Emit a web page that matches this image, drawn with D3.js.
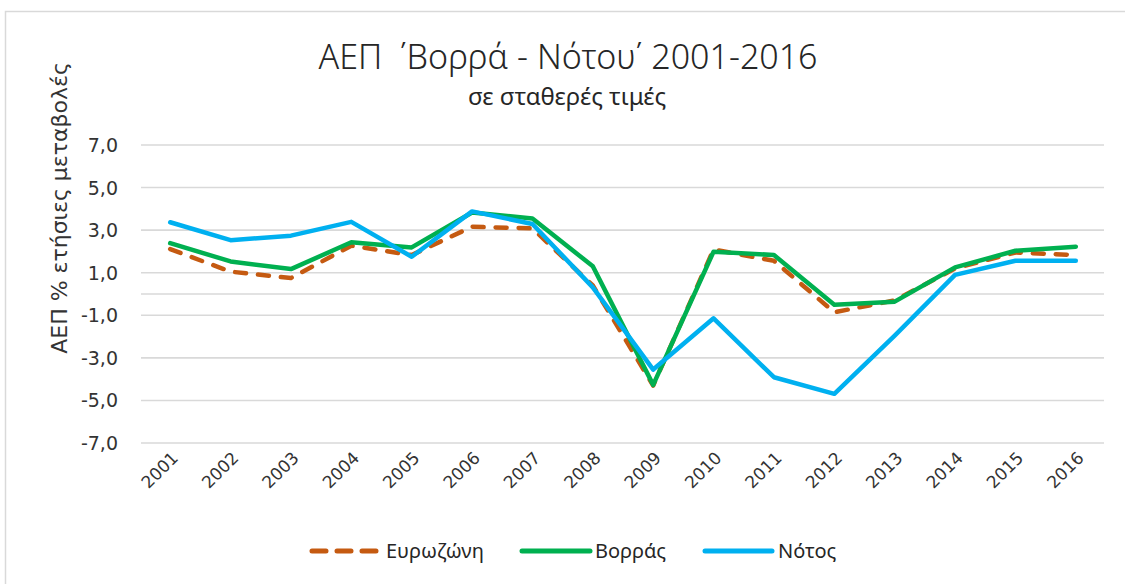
<!DOCTYPE html>
<html>
<head>
<meta charset="utf-8">
<script src="https://cdn.jsdelivr.net/npm/d3@7"></script>
<style>
  body { margin: 0; background: #fff; }
  text { font-family: "Noto Sans", "Open Sans", sans-serif; fill: #262626; }
  .tick { font-family: "DejaVu Sans", sans-serif; fill: #333; }
</style>
</head>
<body>
<svg width="1125" height="584"></svg>
<script>
const years = ["2001", "2002", "2003", "2004", "2005", "2006", "2007", "2008",
               "2009", "2010", "2011", "2012", "2013", "2014", "2015", "2016"];
const eurozone = [2.11, 1.05, 0.75, 2.27, 1.83, 3.16, 3.08, 0.40, -4.30, 2.09, 1.56, -0.86, -0.30, 1.20, 1.95, 1.83];
const north = [2.39, 1.53, 1.17, 2.43, 2.19, 3.83, 3.55, 1.30, -4.27, 1.99, 1.83, -0.50, -0.36, 1.25, 2.03, 2.22];
const south = [3.37, 2.53, 2.74, 3.39, 1.75, 3.88, 3.29, 0.31, -3.55, -1.14, -3.91, -4.69, -1.95, 0.90, 1.56, 1.56];
const yTicks = [-7, -5, -3, -1, 1, 3, 5, 7];
const seriesNames = ["Ευρωζώνη", "Βορράς", "Νότος"];
const seriesColors = ["#c55a11", "#00b050", "#00b0f0"];

function init() {
    const svg = d3.select("svg");
    // chart area frame
    svg.append("rect")
        .attr("x", 5.5).attr("y", 11.5)
        .attr("width", 1200).attr("height", 700)
        .attr("fill", "#fff")
        .attr("stroke", "#d9d9d9")
        .attr("stroke-width", 1.5);

    var x = d3.scaleBand().domain(years).range([140, 1106]);
    var y = d3.scaleLinear().domain([-7, 7]).range([443, 145]);

    drawGrid(svg, x, y);
    drawAxes(svg, x, y);
    drawLines(svg, x, y);
    drawTitles(svg);
    drawLegend(svg);
}

function drawGrid(svg, x, y) {
    svg.append("g")
        .selectAll("line").data(yTicks.concat([0])).enter()
        .append("line")
        .attr("x1", 141).attr("x2", 1104)
        .attr("y1", function(d) { return y(d); })
        .attr("y2", function(d) { return y(d); })
        .attr("stroke", "#d9d9d9")
        .attr("stroke-width", 1.6);
}

function drawAxes(svg, x, y) {
    const fmt = function(d) { return d3.format(".1f")(d).replace(".", ",").replace("−", "-"); };
    svg.append("g")
        .selectAll("text").data(yTicks).enter()
        .append("text")
        .attr("class", "tick")
        .attr("x", 118)
        .attr("y", function(d) { return y(d) + 7; })
        .attr("text-anchor", "end")
        .attr("font-size", "19px")
        .text(fmt);

    svg.append("g")
        .selectAll("text").data(years).enter()
        .append("text")
        .attr("class", "tick")
        .attr("transform", function(d) {
            return "translate(" + (x(d) + x.bandwidth() / 2 + 9) + ", 459) rotate(-45)";
        })
        .attr("text-anchor", "end")
        .attr("font-size", "17px")
        .text(function(d) { return d; });

    svg.append("text")
        .attr("class", "tick")
        .attr("transform", "translate(67, 208) rotate(-90)")
        .attr("text-anchor", "middle")
        .attr("font-size", "22px")
        .text("ΑΕΠ % ετήσιες μεταβολές");
}

function drawLines(svg, x, y) {
    const allSeries = [eurozone, north, south];
    const line = d3.line()
        .x(function(d, i) { return x(years[i]) + x.bandwidth() / 2; })
        .y(function(d) { return y(d); });
    allSeries.forEach(function(s, k) {
        svg.append("path")
            .datum(s)
            .attr("d", line)
            .attr("fill", "none")
            .attr("stroke", seriesColors[k])
            .attr("stroke-width", 4.5)
            .attr("stroke-linejoin", "round")
            .attr("stroke-linecap", "round")
            .attr("stroke-dasharray", k === 0 ? "11,12" : null);
    });
}

function drawTitles(svg) {
    svg.append("text")
        .attr("x", 568).attr("y", 69)
        .attr("text-anchor", "middle")
        .attr("font-size", "34px")
        .attr("font-weight", 300)
        .style("white-space", "pre")
        .attr("fill", "#111")
        .text("ΑΕΠ  ΄Βορρά - Νότου΄ 2001-2016");
    svg.append("text")
        .attr("x", 567).attr("y", 105)
        .attr("text-anchor", "middle")
        .attr("font-size", "24px")
        .attr("fill", "#111")
        .text("σε σταθερές τιμές");
}

function drawLegend(svg) {
    const items = [
        { x1: 312, x2: 376, tx: 386 },
        { x1: 522, x2: 590, tx: 595 },
        { x1: 705, x2: 772, tx: 778 }
    ];
    items.forEach(function(it, k) {
        svg.append("line")
            .attr("x1", it.x1).attr("x2", it.x2)
            .attr("y1", 551).attr("y2", 551)
            .attr("stroke", seriesColors[k])
            .attr("stroke-width", 5)
            .attr("stroke-linecap", "round")
            .attr("stroke-dasharray", k === 0 ? "14,11" : null);
        svg.append("text")
            .attr("x", it.tx).attr("y", 558)
            .attr("font-size", "20px")
            .text(seriesNames[k]);
    });
}

init();
</script>
</body>
</html>
